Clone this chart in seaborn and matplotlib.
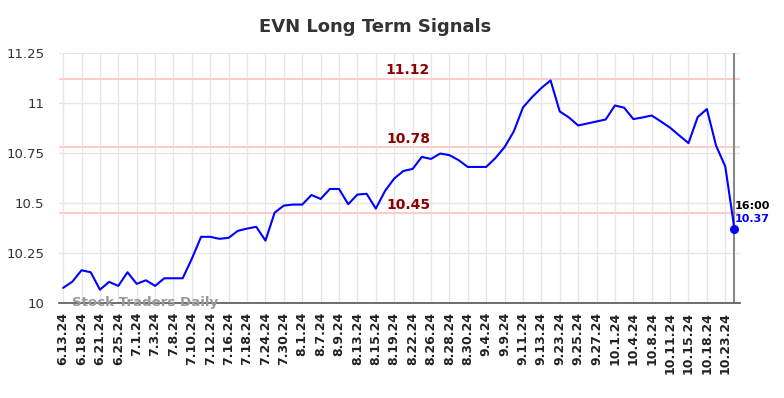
import numpy as np
import pandas as pd
import seaborn as sns
import matplotlib.pyplot as plt

# daily closes
prices = [
    10.077, 10.108, 10.165, 10.155, 10.068, 10.107, 10.087, 10.155, 10.097, 10.115,
    10.087, 10.125, 10.125, 10.125, 10.223, 10.332, 10.332, 10.322, 10.327, 10.362,
    10.373, 10.382, 10.313, 10.453, 10.488, 10.493, 10.493, 10.541, 10.521, 10.571,
    10.571, 10.495, 10.543, 10.547, 10.473, 10.561, 10.623, 10.661, 10.671, 10.731,
    10.721, 10.748, 10.740, 10.715, 10.681, 10.681, 10.681, 10.725, 10.780, 10.858,
    10.978, 11.030, 11.075, 11.113, 10.958, 10.928, 10.888, 10.898, 10.908, 10.918,
    10.988, 10.977, 10.920, 10.928, 10.938, 10.908, 10.877, 10.838, 10.800, 10.930,
    10.970, 10.787, 10.683, 10.370,
]
tick_labels = [
    "6.13.24", "6.18.24", "6.21.24", "6.25.24", "7.1.24", "7.3.24", "7.8.24",
    "7.10.24", "7.12.24", "7.16.24", "7.18.24", "7.24.24", "7.30.24", "8.1.24",
    "8.7.24", "8.9.24", "8.13.24", "8.15.24", "8.19.24", "8.22.24", "8.26.24",
    "8.28.24", "8.30.24", "9.4.24", "9.9.24", "9.11.24", "9.13.24", "9.23.24",
    "9.25.24", "9.27.24", "10.1.24", "10.4.24", "10.8.24", "10.11.24", "10.15.24",
    "10.18.24", "10.23.24",
]
levels = [11.12, 10.78, 10.45]
y_ticks = [10, 10.25, 10.5, 10.75, 11, 11.25]
y_tick_labels = ["10", "10.25", "10.5", "10.75", "11", "11.25"]
last_time = "16:00"

df = pd.DataFrame({"idx": np.arange(len(prices)), "price": prices})
n = len(prices)

sns.set_style("white")
plt.rcParams["font.family"] = ["DejaVu Sans"]

fig = plt.figure(figsize=(7.84, 3.98), dpi=100)
ax = fig.add_axes([59 / 784, 1 - 303.3 / 398, (740 - 59) / 784, (303.3 - 53) / 398])

# grid
for t in range(0, n, 2):
    ax.axvline(t, color="#e6e6e6", linewidth=1, zorder=0)
for yv in y_ticks:
    ax.axhline(yv, color="#e6e6e6", linewidth=1, zorder=0)

# signal levels
mid = (n - 1) / 2 + 1
for lv in levels:
    ax.axhline(lv, color="#ffcccc", linewidth=1.5, zorder=1)
    ax.text(mid, lv + 0.008, f"{lv:.2f}", color="#8b0000", fontsize=10,
            fontweight="bold", ha="center", va="bottom", zorder=3)

sns.lineplot(data=df, x="idx", y="price", color="#0000ff", linewidth=1.5, ax=ax, zorder=4)

# last point
ax.axvline(n - 1, color="#888888", linewidth=1.5, zorder=2)
ax.scatter([n - 1], [prices[-1]], color="#0000ff", s=30, zorder=5)
ax.text(n - 1, prices[-1] + 0.115, last_time, color="black", fontsize=8,
        fontweight="bold", ha="left", va="center", zorder=6)
ax.text(n - 1, prices[-1] + 0.05, f"{prices[-1]:.2f}", color="#0000ff", fontsize=8,
        fontweight="bold", ha="left", va="center", zorder=6)

ax.text(1, 10.003, "Stock Traders Daily", color="#999999", fontsize=9.6,
        fontweight="bold", ha="left", va="center", zorder=3)

ax.set_xlim(-0.45, n - 1 + 0.6)
ax.set_ylim(10, 11.25)
ax.set_xticks(range(0, n, 2))
ax.set_xticklabels(tick_labels, rotation=90, fontsize=9, fontweight="bold", color="#222222")
ax.set_yticks(y_ticks)
ax.set_yticklabels(y_tick_labels, fontsize=9.5, color="#333333")
ax.tick_params(axis="x", length=0, pad=6)
ax.tick_params(axis="y", length=0, pad=10.5)
ax.set_xlabel("")
ax.set_ylabel("")
for side in ["top", "right", "left"]:
    ax.spines[side].set_visible(False)
ax.spines["bottom"].set_color("#555555")
ax.spines["bottom"].set_linewidth(1.2)

fig.text(375 / 784, 1 - 27 / 398, "EVN Long Term Signals", ha="center", va="center",
         fontsize=13, fontweight="bold", color="#333333")

fig.savefig("out.png", dpi=100)
